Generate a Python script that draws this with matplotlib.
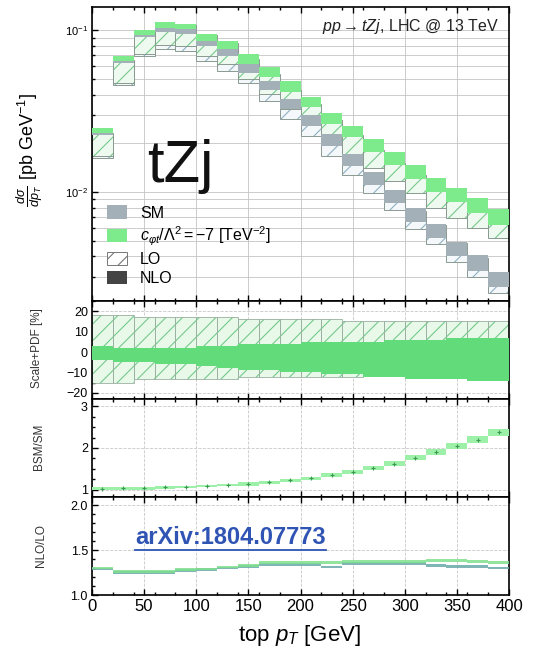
import numpy as np
import matplotlib
matplotlib.use("Agg")
import matplotlib.pyplot as plt
from matplotlib.patches import Patch
from matplotlib.ticker import MultipleLocator, LogLocator, NullFormatter, FormatStrFormatter

plt.rcParams['font.family'] = ['Liberation Sans', 'DejaVu Sans']
plt.rcParams['mathtext.fontset'] = 'custom'
plt.rcParams['mathtext.rm'] = 'Liberation Sans'
plt.rcParams['mathtext.it'] = 'Liberation Sans:italic'
plt.rcParams['mathtext.bf'] = 'Liberation Sans:bold'
plt.rcParams['hatch.linewidth'] = 0.8

# top pT bins [GeV]
pt_low = [0, 20, 40, 60, 80, 100, 120, 140, 160, 180,
          200, 220, 240, 260, 280, 300, 320, 340, 360, 380]
bin_w = 20

# dsigma/dpT [pb/GeV] central values
sm_nlo = [0.0235, 0.0655, 0.0957, 0.104, 0.101, 0.0856, 0.075, 0.060, 0.0468, 0.0360,
          0.0283, 0.0216, 0.0163, 0.0126, 0.0097, 0.0075, 0.0060, 0.0046, 0.0038, 0.0030]
bsm_nlo = [0.0240, 0.0676, 0.0986, 0.1096, 0.1074, 0.0925, 0.0832, 0.068, 0.0566, 0.0464,
           0.0370, 0.0295, 0.0245, 0.0201, 0.0167, 0.0139, 0.0115, 0.0099, 0.0086, 0.0073]
sm_lo = [0.0190, 0.0540, 0.0790, 0.0880, 0.0860, 0.0740, 0.0640, 0.0535, 0.0417, 0.0321,
         0.0251, 0.0190, 0.0144, 0.0111, 0.0087, 0.0066, 0.0054, 0.0042, 0.0034, 0.0027]
bsm_lo = [0.0195, 0.0555, 0.0815, 0.0925, 0.0915, 0.0800, 0.0710, 0.0570, 0.0460, 0.0370,
          0.0300, 0.0240, 0.0195, 0.0158, 0.0132, 0.0110, 0.0091, 0.0079, 0.0068, 0.0059]

# scale+PDF uncertainty [%]
lo_up = [18, 18, 17, 17, 17, 17, 17, 16, 16, 16, 16, 16, 15, 15, 15, 15, 15, 15, 15, 15]
lo_dn = [-15, -15, -13, -13, -13, -13, -13, -12, -12, -12, -12, -12, -12, -11, -11, -11, -12, -12, -12, -12]
nlo_up = [3, 2, 2, 2, 2, 3, 3, 4, 4, 4, 5, 5, 5, 5, 6, 6, 6, 7, 7, 7]
nlo_dn = [-4, -5, -5, -6, -6, -7, -8, -9, -9, -10, -10, -11, -11, -12, -12, -13, -13, -13, -14, -14]

# BSM/SM ratio
bsm_sm = [1.02, 1.03, 1.03, 1.05, 1.06, 1.08, 1.11, 1.13, 1.17, 1.22,
          1.27, 1.35, 1.42, 1.52, 1.62, 1.76, 1.90, 2.05, 2.20, 2.38]
bsm_sm_err = [0.03, 0.03, 0.03, 0.03, 0.03, 0.03, 0.03, 0.04, 0.04, 0.04,
              0.04, 0.05, 0.05, 0.05, 0.06, 0.06, 0.07, 0.07, 0.08, 0.08]

# NLO/LO K-factors
k_sm = [1.29, 1.25, 1.25, 1.25, 1.27, 1.28, 1.30, 1.32, 1.34, 1.34,
        1.34, 1.31, 1.35, 1.35, 1.35, 1.35, 1.33, 1.32, 1.32, 1.30]
k_bsm = [1.30, 1.26, 1.26, 1.26, 1.28, 1.29, 1.31, 1.33, 1.36, 1.36,
         1.36, 1.36, 1.37, 1.37, 1.37, 1.37, 1.38, 1.38, 1.37, 1.36]

GREEN = '#7deb8c'
GREEN_D = '#62dc7a'
GREEN_H = '#74c98a'
GRAY = '#a3b0b8'
GRAY_H = '#8fb0c4'
EDGE = '#8a9a90'

x = np.array(pt_low, dtype=float)
sm_nlo, bsm_nlo = np.array(sm_nlo), np.array(bsm_nlo)
sm_lo, bsm_lo = np.array(sm_lo), np.array(bsm_lo)
lo_up, lo_dn = np.array(lo_up) / 100.0, np.array(lo_dn) / 100.0
nlo_up, nlo_dn = np.array(nlo_up) / 100.0, np.array(nlo_dn) / 100.0

fig = plt.figure(figsize=(5.37, 6.48), dpi=100)
L, W = 92 / 537, 417 / 537
ax0 = fig.add_axes([L, 1 - 301 / 648, W, 294 / 648])
ax1 = fig.add_axes([L, 1 - 399 / 648, W, 98 / 648], sharex=ax0)
ax2 = fig.add_axes([L, 1 - 497 / 648, W, 98 / 648], sharex=ax0)
ax3 = fig.add_axes([L, 1 - 595 / 648, W, 98 / 648], sharex=ax0)


def hbox(ax, lo, hi, face, hcol, z):
    ax.bar(x, hi - lo, bottom=lo, width=bin_w, align='edge', color=face,
           edgecolor=hcol, hatch='//', linewidth=0, zorder=z)
    ax.bar(x, hi - lo, bottom=lo, width=bin_w, align='edge', fill=False,
           edgecolor=EDGE, linewidth=0.7, zorder=z + 0.1)


# main panel
hbox(ax0, sm_lo * (1 + lo_dn), sm_lo * (1 + lo_up), '#f4f8fa', GRAY_H, 2)
hbox(ax0, bsm_lo * (1 + lo_dn), bsm_lo * (1 + lo_up), '#eefaf0', GREEN_H, 2.2)
ax0.bar(x, sm_nlo * (nlo_up - nlo_dn), bottom=sm_nlo * (1 + nlo_dn), width=bin_w,
        align='edge', color=GRAY, linewidth=0, zorder=3)
ax0.bar(x, bsm_nlo * (nlo_up - nlo_dn), bottom=bsm_nlo * (1 + nlo_dn), width=bin_w,
        align='edge', color=GREEN, linewidth=0, zorder=3.2)
ax0.set_yscale('log')
ax0.set_ylim(2.12e-3, 0.139)
ax0.set_xlim(0, 400)
ax0.yaxis.set_major_locator(LogLocator(base=10, numticks=5))
ax0.yaxis.set_minor_locator(LogLocator(base=10, subs=np.arange(2, 10), numticks=20))
ax0.yaxis.set_minor_formatter(NullFormatter())
ax0.grid(True, which='both', axis='y', color='#c4c4c4', linewidth=0.6)
ax0.grid(True, which='major', axis='x', color='#c4c4c4', linewidth=0.6)
ax0.text(0.975, 0.935, r'$pp \rightarrow tZj$, LHC @ 13 TeV', transform=ax0.transAxes,
         ha='right', va='center', fontsize=11.5, color='#222222')
ax0.text(0.132, 0.405, 'tZj', transform=ax0.transAxes, ha='left', va='baseline',
         fontsize=43, color='#111111')

handles = [Patch(facecolor=GRAY, edgecolor='none'),
           Patch(facecolor=GREEN, edgecolor='none'),
           Patch(facecolor='white', edgecolor='#777777', hatch='//', linewidth=0.7),
           Patch(facecolor='#444444', edgecolor='none')]
labels = ['SM', r'$c_{\varphi t}/\Lambda^2 = -7$ [TeV$^{-2}$]', 'LO', 'NLO']
ax0.legend(handles, labels, loc='upper left', bbox_to_anchor=(0.035, 0.325),
           frameon=False, fontsize=11.5, handlelength=1.3, handleheight=0.9,
           handletextpad=0.8, labelspacing=0.25, borderpad=0, borderaxespad=0)

# scale + PDF panel
ax1.bar(x, (lo_up - lo_dn) * 100, bottom=lo_dn * 100, width=bin_w, align='edge',
        color='#e8f9ea', edgecolor=GREEN_H, hatch='//', linewidth=0, zorder=2)
ax1.bar(x, (lo_up - lo_dn) * 100, bottom=lo_dn * 100, width=bin_w, align='edge',
        fill=False, edgecolor='#9ab0a0', linewidth=0.6, zorder=2.1)
ax1.bar(x, (nlo_up - nlo_dn) * 100, bottom=nlo_dn * 100, width=bin_w, align='edge',
        color=GREEN_D, linewidth=0, zorder=3)
ax1.set_ylim(-23, 25)
ax1.yaxis.set_major_locator(MultipleLocator(10))
ax1.yaxis.set_minor_locator(MultipleLocator(5))

# BSM/SM panel
r = np.array(bsm_sm)
re = np.array(bsm_sm_err)
ax2.bar(x, 2 * re, bottom=r - re, width=bin_w, align='edge', color='#9cf0a8',
        linewidth=0, zorder=3)
ax2.plot(x + bin_w / 2, r, linestyle='none', marker='+', markersize=3,
         markeredgewidth=0.8, color='#3a9a50', zorder=4)
ax2.set_ylim(0.82, 3.18)
ax2.yaxis.set_major_locator(MultipleLocator(1))
ax2.yaxis.set_minor_locator(MultipleLocator(0.25))

# NLO/LO panel
xe = np.append(x, 400)
for k, col in ((k_sm, '#6aa8a8'), (k_bsm, '#7fe08e')):
    kk = np.append(k, k[-1])
    ax3.fill_between(xe, kk - 0.015, kk + 0.015, step='post', color=col,
                     linewidth=0, alpha=0.85, zorder=3)
ax3.set_ylim(1.0, 2.09)
ax3.yaxis.set_major_locator(MultipleLocator(0.5))
ax3.yaxis.set_minor_locator(MultipleLocator(0.1))
ax3.yaxis.set_major_formatter(FormatStrFormatter('%.1f'))

for ax in (ax1, ax2, ax3):
    ax.grid(True, which='major', color='#c8c8c8', linewidth=0.6, linestyle='--')

for ax in (ax0, ax1, ax2, ax3):
    ax.set_axisbelow(True)
    ax.xaxis.set_major_locator(MultipleLocator(50))
    ax.xaxis.set_minor_locator(MultipleLocator(20))
    ax.tick_params(which='both', direction='in', top=True, right=False, width=1.0)
    ax.tick_params(which='major', length=4)
    ax.tick_params(which='minor', length=2)
    ax.tick_params(axis='y', labelsize=9, pad=3)
    for s in ax.spines.values():
        s.set_linewidth(1.2)
    if ax is not ax3:
        ax.tick_params(labelbottom=False)
ax0.tick_params(axis='y', labelsize=8)
ax3.tick_params(axis='x', labelsize=12, pad=3)

fig.text(30 / 537, 1 - 150 / 648, r'$\frac{d\sigma}{dp_T}$ [pb GeV$^{-1}$]',
         rotation=90, ha='center', va='center', fontsize=13)
fig.text(37 / 537, 1 - 348 / 648, 'Scale+PDF [%]', rotation=90, ha='center',
         va='center', fontsize=8.5, color='#333333')
fig.text(39 / 537, 1 - 447 / 648, 'BSM/SM', rotation=90, ha='center',
         va='center', fontsize=8.5, color='#333333')
fig.text(41 / 537, 1 - 546 / 648, 'NLO/LO', rotation=90, ha='center',
         va='center', fontsize=8.5, color='#333333')
fig.text(300 / 537, 1 - 636 / 648, r'top $p_T$ [GeV]', ha='center', va='center',
         fontsize=16)

arx = fig.text(135 / 537, 1 - 537 / 648, 'arXiv:1804.07773', ha='left', va='center',
               fontsize=17, fontweight='bold', color='#2f54b4')
fig.canvas.draw()
bb = arx.get_window_extent().transformed(fig.transFigure.inverted())
fig.add_artist(plt.Line2D([bb.x0, bb.x1], [bb.y0 - 0.002, bb.y0 - 0.002],
                          transform=fig.transFigure, color='#2f54b4', linewidth=1.3))

fig.savefig('out.png', dpi=100)
